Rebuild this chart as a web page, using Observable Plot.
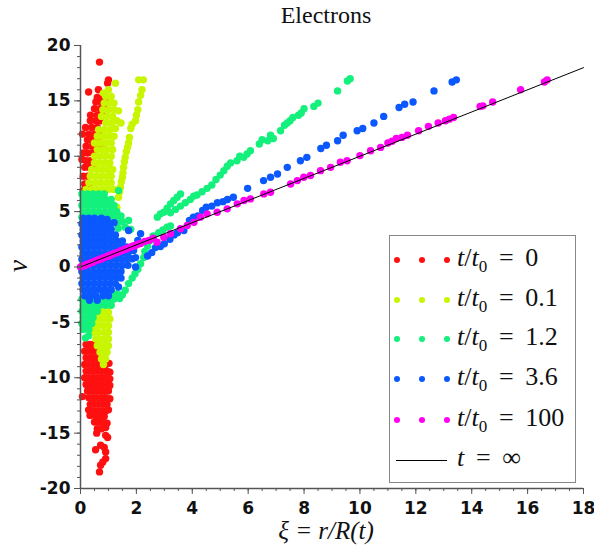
<!DOCTYPE html>
<html><head><meta charset="utf-8">
<script src="https://cdn.jsdelivr.net/npm/d3@7"></script>
<script src="https://cdn.jsdelivr.net/npm/@observablehq/plot@0.6"></script>
<style>
html,body{margin:0;padding:0;background:#fff;overflow:hidden;}
#wrap{position:relative;width:594px;height:550px;}
#title{box-sizing:border-box;width:594px;height:30px;padding-left:58px;font-family:"Liberation Serif",serif;font-size:24px;line-height:30px;text-align:center;color:#111;}
#ylab{position:absolute;left:3px;top:251px;width:30px;height:30px;line-height:30px;text-align:center;font-family:"Liberation Serif",serif;font-style:italic;font-size:27px;color:#111;transform:rotate(-90deg);transform-origin:50% 50%;}
#legend{position:absolute;left:389px;top:235px;width:187px;height:248px;border:1.5px solid #888;background:#fff;box-sizing:border-box;}
#legend .row{position:absolute;left:0;width:100%;height:0;}
#legend .dot{position:absolute;width:6px;height:6px;border-radius:50%;top:-3px;}
#legend .lab{position:absolute;left:67px;top:-17px;font-family:"Liberation Serif",serif;font-size:26px;line-height:30px;white-space:nowrap;color:#111;}
#legend .lab sub{font-size:17px;vertical-align:-6px;line-height:0;}
#legend .ln{position:absolute;left:6px;width:51px;top:-0.5px;height:1px;background:#000;}
svg [aria-label$="tick label"] text{font-weight:bold;}
</style>
</head><body>
<div id="wrap">
<div id="title">Electrons</div>
<div id="chart"></div>
<div id="ylab">v</div>
<div id="legend"></div>
</div>
<script>
// ---- data: [xi, v] pairs ----
const seriesLabels = ["0", "0.1", "1.2", "3.6", "100"];
const seriesColors = ["#ff1010", "#c8f500", "#14f07c", "#0b58ff", "#ff00f0"];

const red = [
 [0.68,18.5],[1.0,16.9],[0.97,16.6],[0.64,16.0],[0.29,15.8],
 [0.6,15.3],[0.8,15.3],[0.55,14.9],[0.75,14.9],[0.9,14.9],
 [0.5,14.3],[0.7,14.3],[0.85,14.3],
 [0.36,13.7],[0.6,13.7],[0.75,13.7],
 [0.35,13.2],[0.55,13.2],[0.7,13.2],
 [0.18,12.6],[0.4,12.6],[0.6,12.6],
 [0.07,12.0],[0.3,12.0],[0.5,12.0],[0.75,12.1],
 [0.25,11.5],[0.4,11.5],[0.6,11.5],
 [0.2,10.9],[0.4,10.9],[0.55,10.9],[0.75,10.8],
 [0.1,10.3],[0.25,10.3],[0.45,10.3],
 [0.05,9.7],[0.2,9.6],[0.35,9.6],
 [0.15,9.0],[0.3,9.0],[0.45,9.0],
 [0.1,8.2],[0.25,8.2],
 [0.15,7.5],[0.3,7.5],
 [0.1,6.9],[0.25,6.8],
 [0.2,-7.0],[0.35,-7.0],[0.5,-7.0],
 [0.15,-7.6],[0.3,-7.6],[0.45,-7.6],[0.6,-7.6],
 [0.2,-8.2],[0.35,-8.2],[0.5,-8.2],[0.65,-8.2],
 [0.15,-8.8],[0.3,-8.8],[0.45,-8.8],[0.6,-8.8],[0.75,-8.8],[0.9,-8.8],[1.02,-8.7],
 [0.2,-9.4],[0.35,-9.4],[0.5,-9.4],[0.65,-9.4],[0.8,-9.4],[0.95,-9.4],[1.05,-9.5],
 [0.15,-10.0],[0.3,-10.0],[0.45,-10.0],[0.6,-10.0],[0.75,-10.0],[0.9,-10.0],[1.05,-10.1],
 [0.2,-10.6],[0.35,-10.6],[0.5,-10.6],[0.65,-10.6],[0.8,-10.6],[0.95,-10.6],[1.05,-10.7],
 [0.25,-11.2],[0.4,-11.2],[0.55,-11.2],[0.7,-11.2],[0.85,-11.2],[1.0,-11.2],
 [0.07,-11.7],[0.3,-11.8],[0.45,-11.8],[0.6,-11.8],[0.75,-11.8],[0.9,-11.8],[1.05,-11.9],
 [0.35,-12.4],[0.5,-12.4],[0.65,-12.4],[0.8,-12.4],[0.95,-12.4],
 [0.29,-12.9],[0.45,-13.0],[0.6,-13.0],[0.75,-13.0],[0.9,-13.0],[1.0,-12.9],
 [0.34,-13.4],[0.55,-13.5],[0.7,-13.5],[0.85,-13.5],
 [0.5,-14.0],[0.65,-14.0],[0.8,-14.0],[0.95,-14.1],
 [0.6,-14.6],[0.75,-14.6],[0.9,-14.5],
 [0.58,-15.0],[0.97,-15.4],[0.9,-15.2],
 [0.54,-16.5],[0.72,-16.1],[0.85,-16.3],[0.9,-16.7],
 [0.9,-17.3],[0.8,-17.6],[0.72,-17.9],[0.68,-18.5]
];

const yellow = [
 [1.3,5.4],[1.36,6.3],[1.4,6.8],[1.43,7.2],[1.46,7.7],[1.5,8.1],[1.52,8.5],[1.54,9.0],[1.57,9.5],
 [1.6,9.9],[1.64,10.4],[1.68,10.8],[1.72,11.2],[1.75,11.7],[1.8,12.5],[1.85,12.9],[1.97,13.2],
 [2.0,13.7],[2.05,14.2],[2.08,14.9],[2.15,15.5],[2.2,16.0],[2.08,16.9],[2.25,16.9],
 [1.25,16.6],[1.0,16.0],[0.82,15.7],[0.9,15.4],[1.1,15.4],
 [0.85,14.8],[1.05,14.8],[1.2,14.8],
 [0.8,14.2],[1.0,14.2],[1.2,14.2],[1.36,14.1],
 [0.75,13.6],[0.95,13.6],[1.15,13.6],
 [0.9,13.0],[1.1,13.0],[1.3,13.2],[1.45,13.0],
 [0.65,12.4],[0.85,12.4],[1.05,12.4],[1.25,12.5],
 [0.6,11.8],[0.8,11.8],[1.0,11.8],[1.2,11.8],
 [0.5,11.2],[0.7,11.2],[0.9,11.2],[1.1,11.2],
 [0.6,10.6],[0.8,10.6],[0.95,10.6],[1.15,10.6],
 [0.5,10.0],[0.7,10.0],[0.9,10.0],[1.1,10.0],
 [0.5,9.4],[0.65,9.4],[0.85,9.4],[1.05,9.4],
 [0.4,8.8],[0.6,8.8],[0.8,8.8],[1.0,8.8],[1.15,8.8],
 [0.35,8.2],[0.55,8.2],[0.75,8.2],[0.95,8.2],[1.1,8.2],
 [0.3,7.6],[0.5,7.6],[0.7,7.6],[0.9,7.6],[1.1,7.6],
 [0.2,7.0],[0.4,7.0],[0.6,7.0],[0.8,7.0],[1.0,7.0],[1.2,7.0],
 [0.5,-3.5],[0.7,-3.5],[0.9,-3.5],[1.05,-3.5],
 [0.6,-4.1],[0.8,-4.1],[1.0,-4.1],
 [0.5,-4.7],[0.7,-4.7],[0.9,-4.7],[1.05,-4.7],
 [0.45,-5.3],[0.6,-5.3],[0.8,-5.3],[1.0,-5.3],
 [0.5,-5.9],[0.65,-5.9],[0.85,-5.9],[1.0,-5.9],
 [0.55,-6.5],[0.7,-6.5],[0.9,-6.5],[1.0,-6.5],
 [0.6,-7.1],[0.75,-7.1],[0.9,-7.1],[1.0,-7.1],
 [0.7,-7.7],[0.85,-7.7],[0.95,-7.7],
 [0.75,-8.3],[0.9,-8.3],[0.82,-8.8]
];

const green = [
 [0.05,6.6],[0.25,6.6],[0.45,6.6],[0.65,6.6],[0.85,6.6],[1.36,6.9],
 [0.1,6.1],[0.3,6.1],[0.5,6.1],[0.7,6.1],[0.9,6.1],[1.1,6.1],
 [0.05,5.55],[0.25,5.55],[0.45,5.55],[0.65,5.55],[0.85,5.55],[1.05,5.55],[1.2,5.55],
 [0.1,5.0],[0.3,5.0],[0.5,5.0],[0.7,5.0],[0.9,5.0],[1.1,5.0],[1.3,5.0],
 [0.05,4.5],[0.25,4.5],[0.45,4.5],[0.65,4.5],[0.85,4.5],[1.05,4.5],[1.25,4.5],[1.45,4.6],
 [1.3,4.0],[1.5,4.1],[1.72,4.2],[1.35,3.5],[1.6,3.6],[1.8,3.4],
 [1.15,-2.4],[1.3,-2.4],
 [0.05,-2.9],[0.25,-2.9],[0.45,-2.9],[0.65,-2.9],[0.85,-2.9],[1.05,-2.9],[1.2,-2.9],
 [0.1,-3.45],[0.3,-3.45],[0.5,-3.45],[0.7,-3.45],[0.9,-3.45],[1.1,-3.45],
 [0.05,-4.0],[0.25,-4.0],[0.45,-4.0],[0.6,-4.0],
 [0.1,-4.55],[0.3,-4.55],[0.45,-4.55],
 [0.05,-5.1],[0.25,-5.1],[0.4,-5.1],
 [0.1,-5.65],[0.3,-5.65],
 [0.18,-6.4],[0.29,-6.2],
 [2.05,-0.2],[1.95,-0.6],[1.85,-1.0],[1.72,-1.5],[1.6,-2.1],[1.5,-2.5],[1.4,-2.85],
 [2.15,0.3],[2.26,0.85],[2.3,1.4],[2.4,1.9],[2.5,2.4],[2.6,2.8],[2.8,3.1],[2.95,3.35],[3.1,3.6],[3.22,3.7],
 [2.75,4.5],[2.86,4.8],[2.98,4.95],[3.1,5.3],[3.22,5.7],[3.34,6.0],[3.46,6.3],[3.58,6.6],
 [3.22,4.9],[3.4,5.2],[3.58,5.5],[3.75,5.8],[3.93,6.1],[4.05,6.4],[4.17,6.5],[4.35,6.8],
 [4.53,7.1],[4.7,7.4],[4.85,7.9],[5.0,8.3],[5.13,8.7],[5.25,9.1],[5.37,9.4],[5.6,9.6],
 [5.7,10.0],[5.84,9.9],[5.96,10.2],[6.08,10.5],[6.4,11.1],[6.5,11.5],[6.7,11.4],[6.8,11.9],
 [6.9,11.6],[7.16,12.3],[7.3,12.8],[7.4,13.0],[7.5,13.2],[7.6,13.5],[7.8,13.7],[7.9,13.9],
 [8.0,14.3],[8.35,14.5],[8.5,14.8],[9.2,15.9],[9.55,16.8],[9.65,17.0]
];

const blue = [
 [0.1,4.4],[0.3,4.4],[0.5,4.4],[0.75,4.4],[0.95,4.3],
 [0.05,3.9],[0.25,3.9],[0.45,3.9],[0.65,3.9],[0.85,3.9],[1.05,3.9],[1.2,4.0],
 [0.1,3.4],[0.3,3.4],[0.5,3.4],[0.7,3.4],[0.9,3.4],[1.1,3.4],
 [0.05,2.9],[0.25,2.9],[0.45,2.9],[0.65,2.9],[0.85,2.9],[1.05,2.9],[1.25,2.9],
 [0.1,2.35],[0.3,2.35],[0.5,2.35],[0.7,2.35],[0.9,2.35],[1.1,2.35],[1.3,2.35],[1.5,2.35],
 [0.05,1.8],[0.25,1.8],[0.45,1.8],[0.65,1.8],[0.85,1.8],[1.05,1.8],[1.25,1.8],[1.45,1.8],[1.65,1.8],
 [0.1,1.25],[0.3,1.25],[0.5,1.25],[0.7,1.25],[0.9,1.25],[1.1,1.25],[1.3,1.25],[1.5,1.25],[1.7,1.25],
 [0.05,0.7],[0.25,0.7],[0.45,0.7],[0.65,0.7],[0.85,0.7],[1.05,0.7],[1.25,0.7],[1.45,0.7],[1.65,0.7],[1.85,0.75],
 [0.1,0.15],[0.3,0.15],[0.5,0.15],[0.7,0.15],[0.9,0.15],[1.1,0.15],[1.3,0.15],[1.5,0.15],[1.7,0.15],
 [0.05,-0.4],[0.25,-0.4],[0.45,-0.4],[0.65,-0.4],[0.85,-0.4],[1.05,-0.4],[1.25,-0.4],[1.45,-0.4],
 [0.1,-0.95],[0.3,-0.95],[0.5,-0.95],[0.7,-0.95],[0.9,-0.95],[1.1,-0.95],[1.3,-0.95],[1.45,-1.0],
 [0.05,-1.5],[0.25,-1.5],[0.45,-1.5],[0.65,-1.5],[0.85,-1.5],[1.05,-1.5],[1.25,-1.5],
 [0.1,-2.05],[0.3,-2.05],[0.5,-2.05],[0.7,-2.05],[0.9,-2.05],[1.1,-2.05],[1.36,-1.8],
 [0.15,-2.6],[0.35,-2.6],[0.55,-2.6],[0.8,-2.6],[1.0,-2.6],
 [0.32,-3.0],[0.6,-3.0],
 [1.97,0.0],[1.97,0.85],[1.9,1.5],[2.05,2.4],[2.15,3.0],[1.72,3.3],
 [2.4,1.0],[2.55,1.3],[2.68,1.75],[2.86,1.85],[3.0,2.1],[3.2,2.5],[3.35,2.9],[3.47,3.1],[3.7,3.3],
 [3.9,4.2],[4.04,4.5],[4.2,4.6],[4.37,5.1],[4.5,5.4],[4.7,5.5],[4.9,5.8],[5.1,5.9],[5.26,6.1],
 [5.47,6.3],[5.98,7.1],[6.55,7.8],[6.8,8.1],[7.05,8.4],[7.4,9.0],[7.87,9.6],[8.1,9.9],[8.6,10.7],
 [8.8,11.0],[9.2,11.4],[9.4,11.9],[9.9,12.3],[10.1,12.5],[10.5,13.0],[10.85,13.6],[11.4,14.4],
 [11.6,14.7],[11.9,14.9],[12.65,15.9],[13.3,16.7],[13.45,16.9]
];

const magenta = [
 [0.0,0.0],[0.08,0.1],[0.15,0.12],[0.22,0.25],[0.3,0.3],[0.38,0.4],[0.45,0.42],[0.52,0.55],
 [0.6,0.6],[0.68,0.7],[0.75,0.72],[0.82,0.85],[0.9,0.9],[0.98,1.0],[1.05,1.02],[1.12,1.15],
 [1.2,1.2],[1.28,1.3],[1.35,1.32],[1.42,1.45],[1.5,1.5],[1.58,1.6],[1.65,1.62],[1.72,1.75],
 [1.8,1.8],[1.88,1.9],[1.95,1.92],[2.05,2.05],[2.15,2.12],[2.3,2.3],[2.45,2.4],[2.6,2.6],
 [2.74,2.24],[2.98,2.69],[3.22,3.0],[3.58,3.45],[3.82,3.75],[4.06,4.04],[4.29,4.5],[4.53,4.8],
 [4.89,4.95],[5.25,5.25],[5.61,5.7],[5.85,6.0],[6.08,6.15],[6.56,6.6],[6.8,6.75],[7.52,7.5],
 [7.76,7.8],[7.99,8.1],[8.23,8.26],[8.59,8.7],[8.95,9.0],[9.3,9.46],[9.54,9.6],[10.0,10.06],
 [10.38,10.5],[10.74,10.8],[11.0,11.2],[11.15,11.35],[11.3,11.6],[11.5,11.7],[11.7,11.9],
 [12.1,12.3],[12.45,12.7],[12.8,13.0],[13.06,13.2],[13.2,13.35],[13.35,13.5],[14.3,14.5],
 [14.4,14.55],[14.75,14.9],[15.75,16.0],[16.6,16.7],[16.7,16.9]
];

const tInfinity = [[0, 0], [18, 18]];

const xTicks = [0, 2, 4, 6, 8, 10, 12, 14, 16, 18];
const yTicks = [-20, -15, -10, -5, 0, 5, 10, 15, 20];
const xMinor = d3.range(0, 18.01, 0.5);
const yMinor = d3.range(-20, 20.01, 1);

const groups = [red, yellow, green, blue, magenta];

const axisStyle = {stroke: "#555", fill: "#111", fontSize: 17, fontWeight: "bold", fontFamily: "DejaVu Sans", label: null};

const chart = Plot.plot({
  width: 594, height: 520,
  marginTop: 15, marginBottom: 62, marginLeft: 80, marginRight: 11,
  x: {domain: [0, 18]},
  y: {domain: [-20, 20]},
  style: {background: "white", fontFamily: "DejaVu Sans"},
  marks: [
    ...groups.map((g, i) => Plot.dot(g, {x: d => d[0], y: d => d[1], r: 3.7, fill: seriesColors[i], stroke: "none"})),
    Plot.line(tInfinity, {x: d => d[0], y: d => d[1], stroke: "#000", strokeWidth: 1}),
    Plot.axisY({ticks: yMinor, tickSize: 3, tickFormat: () => "", stroke: "#555", label: null}),
    Plot.axisY({ticks: yTicks, tickSize: 6, tickPadding: 4, tickFormat: d => String(d), ...axisStyle}),
    Plot.axisX({ticks: xMinor, tickSize: 3, tickFormat: () => "", stroke: "#555", label: null}),
    Plot.axisX({ticks: xTicks, tickSize: 6, tickPadding: 7, tickFormat: d => String(d), ...axisStyle}),
    Plot.ruleX([0], {y1: -20, y2: 20, stroke: "#555", strokeWidth: 1.5}),
    Plot.ruleY([-20], {x1: 0, x2: 18, stroke: "#555", strokeWidth: 1.5}),
    Plot.text(["ξ = r/R(t)"], {frameAnchor: "bottom", dx: -6, dy: 50, fontFamily: "Liberation Serif", fontStyle: "italic", fontSize: 25, fill: "#111"})
  ]
});
document.getElementById("chart").appendChild(chart);

// legend
const legend = document.getElementById("legend");
const rowsY = [24, 64, 103, 143, 184, 224];
seriesLabels.forEach((lab, i) => {
  const row = document.createElement("div");
  row.className = "row";
  row.style.top = rowsY[i] + "px";
  [4, 29, 54].forEach(x => {
    const d = document.createElement("span");
    d.className = "dot";
    d.style.left = x + "px";
    d.style.background = seriesColors[i];
    row.appendChild(d);
  });
  const t = document.createElement("span");
  t.className = "lab";
  t.innerHTML = "<i>t</i>/<i>t</i><sub>0</sub>&thinsp; = &thinsp;" + lab;
  row.appendChild(t);
  legend.appendChild(row);
});
const lastRow = document.createElement("div");
lastRow.className = "row";
lastRow.style.top = rowsY[5] + "px";
lastRow.innerHTML = '<span class="ln"></span><span class="lab"><i>t</i>&thinsp; = &thinsp;∞</span>';
legend.appendChild(lastRow);
</script>
</body></html>
